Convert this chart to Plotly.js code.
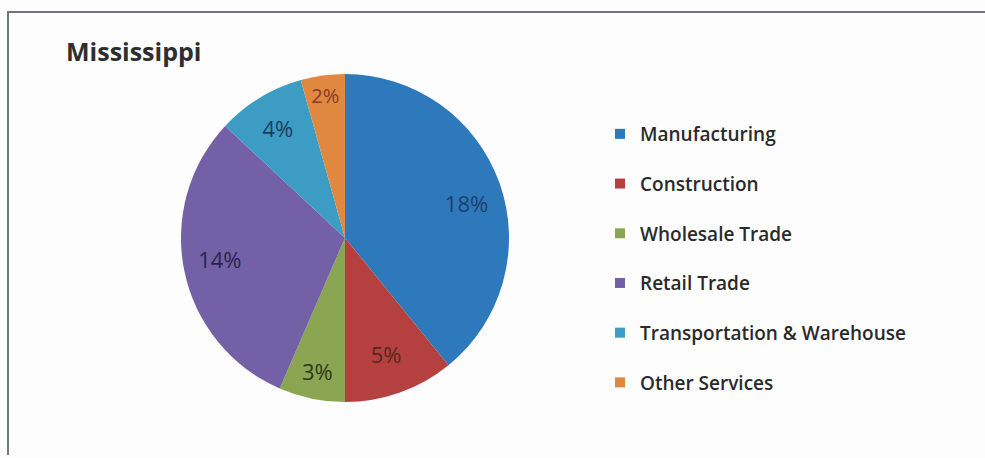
<!DOCTYPE html>
<html>
<head>
<meta charset="utf-8">
<script src="https://cdn.plot.ly/plotly-3.0.1.min.js"></script>
<style>html,body{margin:0;padding:0;background:#fdfdfd;}#chart{width:985px;height:458px;}</style>
</head>
<body>
<div id="chart"></div>
<script>
const categories = ['Manufacturing', 'Construction', 'Wholesale Trade', 'Retail Trade', 'Transportation & Warehouse', 'Other Services'];
const values = [18, 5, 3, 14, 4, 2];
const valueLabels = ['18%', '5%', '3%', '14%', '4%', '2%'];
const sliceColors = ['#2e79bb', '#b4413f', '#8aa653', '#7460a6', '#3c9cc3', '#e0883f'];
const labelColors = ['#1d3f6e', '#5a2424', '#2a3a1a', '#2a2550', '#1c3b60', '#8a3a2a'];
const chartTitle = 'Mississippi';

const FONT = '"Open Sans", Lato, sans-serif';
const W = 985, H = 458;
const cx = 345, cy = 238, r = 164, rLab = 98;

function dom(rad) {
  return {x: [(cx - rad) / W, (cx + rad) / W], y: [(H - cy - rad) / H, (H - cy + rad) / H]};
}
// large slices get their label from the helper pie, small ones are labelled inside
const isLarge = values.map(v => v >= 10);

const traces = [{
  type: 'pie',
  labels: categories,
  values: values,
  text: valueLabels,
  textinfo: 'text',
  textposition: isLarge.map(b => b ? 'none' : 'inside'),
  insidetextorientation: 'horizontal',
  textfont: {family: FONT, size: 22, color: labelColors},
  marker: {colors: sliceColors, line: {width: 0}},
  sort: false,
  direction: 'clockwise',
  rotation: 0,
  showlegend: false,
  hoverinfo: 'label+text',
  domain: dom(r)
}, {
  // transparent helper pie that only positions the labels of the large slices
  type: 'pie',
  labels: categories,
  values: values,
  text: valueLabels,
  textinfo: 'text',
  textposition: isLarge.map(b => b ? 'outside' : 'none'),
  automargin: false,
  textfont: {family: FONT, size: 22, color: labelColors},
  marker: {colors: categories.map(() => 'rgba(0,0,0,0)'), line: {width: 0}},
  sort: false,
  direction: 'clockwise',
  rotation: 0,
  showlegend: false,
  hoverinfo: 'skip',
  domain: dom(rLab)
}];

categories.forEach((c, i) => {
  traces.push({
    type: 'scatter', mode: 'markers', x: [null], y: [null],
    name: c, legendgroup: 'g' + i, showlegend: true,
    marker: {symbol: 'square', size: 10, color: sliceColors[i]},
    hoverinfo: 'skip'
  });
});

const layout = {
  width: W, height: H,
  margin: {l: 0, r: 0, t: 0, b: 0},
  paper_bgcolor: '#fdfdfd',
  plot_bgcolor: 'rgba(0,0,0,0)',
  font: {family: FONT, color: '#2a2a2a'},
  title: {text: chartTitle, x: 66 / W, xanchor: 'left', y: 1 - 52 / H, yanchor: 'middle',
          font: {size: 25, color: '#2e2e2e', family: FONT, weight: 'bold'}},
  xaxis: {visible: false, domain: [0.99, 1]},
  yaxis: {visible: false, domain: [0.99, 1]},
  legend: {x: 600 / W, xanchor: 'left', y: 1 - 115 / H, yanchor: 'top',
           font: {size: 19, color: '#2a2a2a', family: FONT, weight: 600}, tracegroupgap: 22, itemwidth: 30,
           bgcolor: 'rgba(0,0,0,0)'},
  shapes: [
    {type: 'path', xref: 'paper', yref: 'paper',
     path: 'M ' + (8 / W) + ' ' + (3 / H) + ' L ' + (8 / W) + ' ' + (1 - 12 / H) + ' L 1 ' + (1 - 12 / H),
     line: {color: '#6f7680', width: 2}}
  ]
};

Plotly.newPlot('chart', traces, layout, {displayModeBar: false});
</script>
</body>
</html>
